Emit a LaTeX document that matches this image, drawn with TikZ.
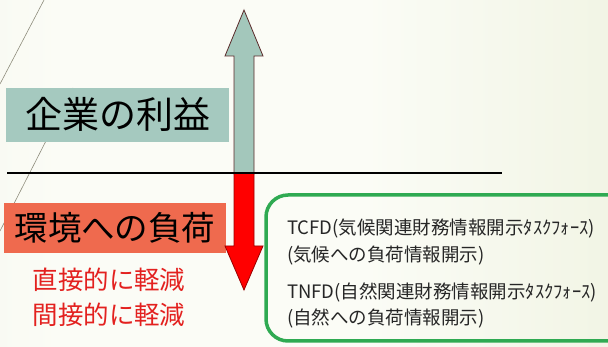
\documentclass[tikz,border=0pt]{standalone}
\usepackage{fontspec}
\newfontfamily\jp{Noto Sans CJK JP}
\definecolor{tealbox}{HTML}{A5C9BF}
\definecolor{tealarrow}{HTML}{A3C7BB}
\definecolor{salmon}{HTML}{EF6A4E}
\definecolor{redtext}{HTML}{E3211F}
\definecolor{greenframe}{HTML}{2FAA52}
\definecolor{outlinebrown}{HTML}{5A2A2A}
\definecolor{decoline}{HTML}{8E8C7C}
\definecolor{bgleft}{HTML}{F0F2E5}
\definecolor{bgmid}{HTML}{FBFCF6}
\definecolor{bgright}{HTML}{E6ECD0}
\pgfdeclarehorizontalshading{bgshade}{100bp}{color(0bp)=(bgleft); color(30bp)=(bgmid); color(55bp)=(bgmid); color(100bp)=(bgright)}
\tikzset{
  labelbox/.style={inner sep=0pt, minimum width=#1, text height=0pt},
  bigtext/.style={font=\jp\fontsize{37}{40}\selectfont, inner sep=0pt, text=black},
  midtext/.style={font=\jp\fontsize{33.5}{36}\selectfont, inner sep=0pt, text=black},
  redlabel/.style={font=\jp\fontsize{25.5}{28}\selectfont, inner sep=0pt, text=redtext},
  infotext/.style={font=\jp\fontsize{18.5}{21}\selectfont, inner sep=0pt, text=black!85, anchor=west},
  arrowshape/.style={draw=outlinebrown, line width=0.8pt, line join=miter},
}
\begin{document}
\begin{tikzpicture}[x=1pt, y=-1pt]
\useasboundingbox (0,0) rectangle (608,347);
% background
\shade[shading=bgshade] (0,0) rectangle (608,347);
% decorative diagonal lines
\coordinate (d1a) at (44,0);
\coordinate (d1b) at (0,84);
\coordinate (d2a) at (73,88);
\coordinate (d2b) at (0,231);
\draw[decoline, line width=0.6pt] (d1a) -- (d1b);
\draw[decoline, line width=0.6pt] (d2a) -- (d2b);
% boxes
\fill[tealbox] (6,88) rectangle (229,142);
\node[bigtext] (profit) at (117.5,114) {企業の利益};
\fill[salmon] (4,203) rectangle (226,253);
\node[midtext] (burden) at (115,228) {環境への負荷};
% red labels
\node[redlabel] (direct) at (109,280) {直接的に軽減};
\node[redlabel] (indirect) at (109,315) {間接的に軽減};
% arrows
\draw[arrowshape, fill=tealarrow] (244,10) -- (263,56) -- (254,56) -- (254,174) -- (234,174) -- (234,56) -- (225,56) -- cycle;
\draw[arrowshape, draw=red!60!black, fill=red] (234,173) -- (254,173) -- (254,246) -- (263,246) -- (244,290) -- (225,246) -- (234,246) -- cycle;
% horizontal line
\coordinate (hl) at (7,173);
\coordinate (hr) at (502,173);
\draw[black, line width=2.6pt] (hl) -- (hr);
% green frame
\draw[greenframe, line width=3.5pt, rounded corners=22pt] (266,195) rectangle (640,341);
% info texts
\node[infotext] (tcfd) at (287,229) {TCFD(気候関連財務情報開示ﾀｽｸﾌｫｰｽ)};
\node[infotext] (tcfdsub) at (287,256) {(気候への負荷情報開示)};
\node[infotext] (tnfd) at (287,292) {TNFD(自然関連財務情報開示ﾀｽｸﾌｫｰｽ)};
\node[infotext] (tnfdsub) at (287,318) {(自然への負荷情報開示)};
\end{tikzpicture}
\end{document}
